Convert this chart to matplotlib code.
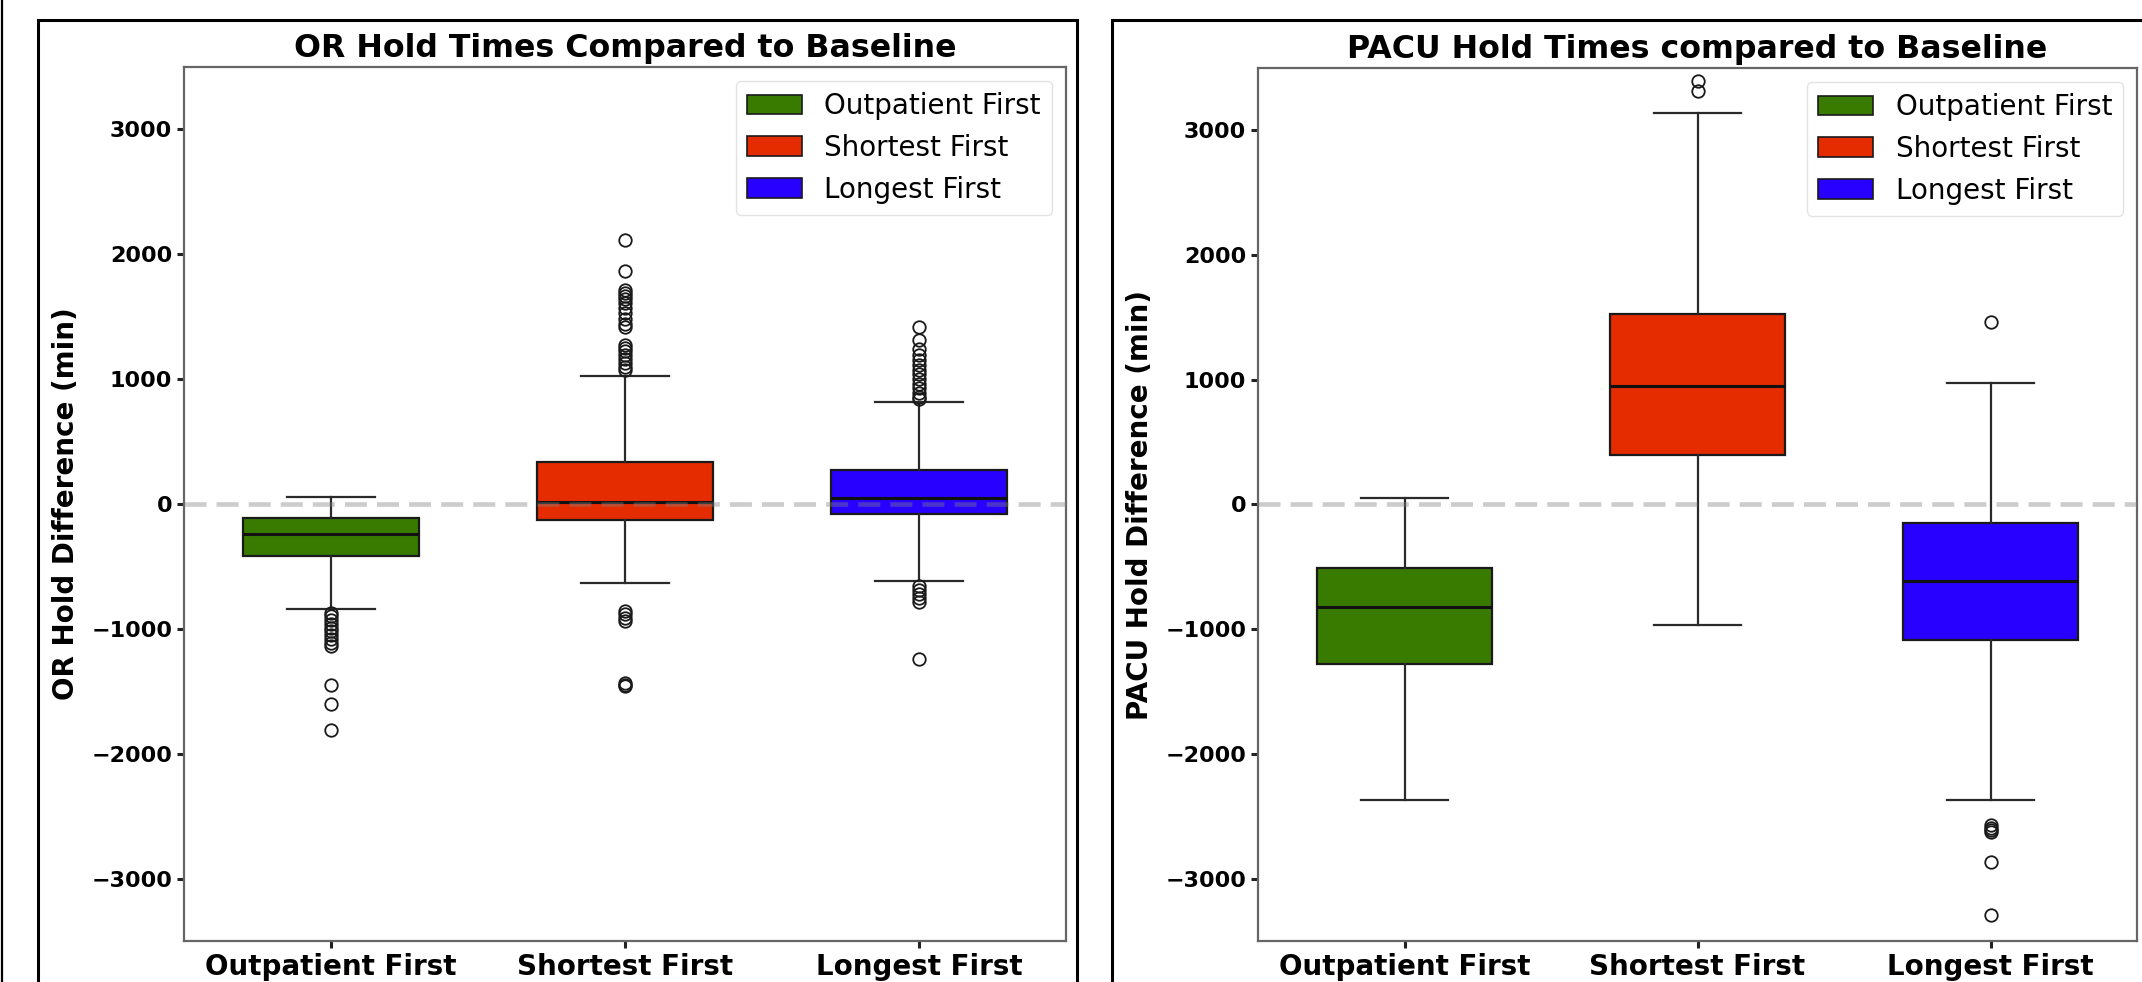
import matplotlib
matplotlib.use("Agg")
import matplotlib.pyplot as plt
from matplotlib.patches import Patch, Rectangle
from matplotlib.lines import Line2D

# ---------------- data ----------------
categories = ["Outpatient First", "Shortest First", "Longest First"]

# OR hold difference (min)
or_whislo = [-841, -636, -618]
or_q1 = [-413, -128, -83]
or_med = [-242, 18, 46]
or_q3 = [-116, 339, 275]
or_whishi = [55, 1028, 817]
or_fliers = [
    [-870, -900, -930, -960, -990, -1020, -1050, -1080, -1110, -1135, -1450, -1600, -1810],
    [2115, 1865, 1715, 1690, 1665, 1640, 1610, 1570, 1530, 1480, 1440, 1415,
     1275, 1250, 1225, 1195, 1165, 1130, 1100, 1070,
     -860, -885, -910, -935, -1435, -1450, -1460],
    [1415, 1315, 1240, 1190, 1150, 1115, 1075, 1040, 1000, 965, 930, 890, 860, 840,
     -660, -690, -720, -750, -785, -1245],
]

# PACU hold difference (min)
pacu_whislo = [-2368, -968, -2368]
pacu_q1 = [-1280, 396, -1084]
pacu_med = [-823, 948, -612]
pacu_q3 = [-507, 1530, -151]
pacu_whishi = [50, 3136, 973]
pacu_fliers = [
    [],
    [3392, 3317],
    [1460, -2570, -2590, -2610, -2630, -2870, -3292],
]

colors = ["#387b00", "#e52b00", "#2800ff"]

W, H = 2142, 982
fig = plt.figure(figsize=(W / 100, H / 100), dpi=100)
fig.patch.set_facecolor("white")


def fx(px):
    return px / W


def fy(py):
    return 1 - py / H


def panel(ax_box, title, ylabel, whislo, q1, med, q3, whishi, fliers):
    l, t, r, b = ax_box
    ax = fig.add_axes([fx(l), fy(b), fx(r - l), (b - t) / H])
    stats = []
    for i, name in enumerate(categories):
        stats.append(dict(label=name, whislo=whislo[i], q1=q1[i], med=med[i],
                          q3=q3[i], whishi=whishi[i], fliers=fliers[i]))
    bp = ax.bxp(stats, positions=range(len(categories)), widths=0.6,
                patch_artist=True, showfliers=True,
                boxprops=dict(edgecolor="#1a1a1a", linewidth=1.6),
                whiskerprops=dict(color="#2a2a2a", linewidth=1.6),
                capprops=dict(color="#2a2a2a", linewidth=1.6),
                medianprops=dict(color="#111111", linewidth=2.2),
                flierprops=dict(marker="o", markerfacecolor="none",
                                markeredgecolor="#1a1a1a", markersize=9,
                                markeredgewidth=1.3, linestyle="none"))
    for patch, c in zip(bp["boxes"], colors):
        patch.set_facecolor(c)
    ax.axhline(0, color="gray", alpha=0.4, linewidth=3.3,
               linestyle=(0, (4.8, 2.2)), zorder=5)
    ax.set_xlim(-0.5, 2.5)
    ax.set_ylim(-3500, 3500)
    ax.set_yticks([-3000, -2000, -1000, 0, 1000, 2000, 3000])
    ax.set_xticks(range(len(categories)))
    ax.set_xticklabels(categories, fontsize=20, fontweight="bold")
    for lab in ax.get_yticklabels():
        lab.set_fontsize(16)
        lab.set_fontweight("bold")
    ax.tick_params(axis="both", length=5, width=2.2, color="#222222")
    for s in ax.spines.values():
        s.set_color("#666666")
        s.set_linewidth(1.6)
    ax.set_title(title, fontsize=22.8, fontweight="bold", pad=7)
    ax.set_ylabel(ylabel, fontsize=20, fontweight="bold", labelpad=8)
    handles = [Patch(facecolor=c, edgecolor="#1a1a1a", linewidth=1.2) for c in colors]
    ax.legend(handles, categories, loc="upper right", fontsize=20,
              frameon=True, fancybox=True, framealpha=0.8, edgecolor="#dddddd")
    return ax


panel((184, 67, 1066, 941), "OR Hold Times Compared to Baseline",
      "OR Hold Difference (min)", or_whislo, or_q1, or_med, or_q3, or_whishi, or_fliers)
panel((1258, 68, 2137, 941), "PACU Hold Times compared to Baseline",
      "PACU Hold Difference (min)", pacu_whislo, pacu_q1, pacu_med, pacu_q3,
      pacu_whishi, pacu_fliers)

# screenshot frames
for (x0, x1) in [(38, 1077), (1112, 2170)]:
    fig.add_artist(Rectangle((fx(x0), fy(1000)), fx(x1 - x0), (1000 - 20) / H,
                             transform=fig.transFigure, fill=False,
                             edgecolor="black", linewidth=2.2, clip_on=False))
fig.add_artist(Line2D([fx(2), fx(2)], [0, 1], transform=fig.transFigure,
                      color="black", linewidth=1.6))

fig.savefig("out.png", dpi=100)
